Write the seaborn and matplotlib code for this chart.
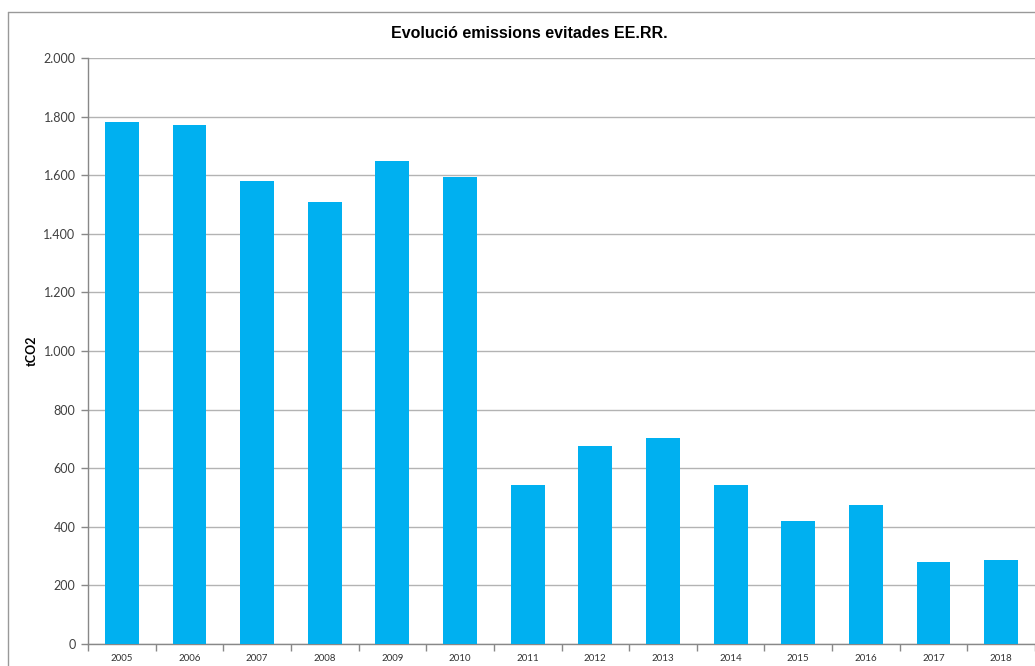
import matplotlib
matplotlib.use("Agg")
import matplotlib.pyplot as plt
from matplotlib.lines import Line2D
from matplotlib.ticker import FuncFormatter, FixedLocator
import pandas as pd
import seaborn as sns

years = [str(y) for y in range(2005, 2019)]
emissions = [1783, 1770, 1581, 1507, 1647, 1593, 541, 675, 702, 544, 419, 475, 280, 286]

TITLE = "Evolució emissions evitades EE.RR."
YLABEL = "tCO2"
BAR_COLOR = "#00B0F0"
GRID_COLOR = "#B3B3B3"

sns.set_theme(style="white")
plt.rcParams["font.family"] = ["Lato", "DejaVu Sans"]

df = pd.DataFrame({"year": years, "tco2": emissions})

W, H = 1035, 666
fig = plt.figure(figsize=(W / 100, H / 100), dpi=100)
ax = fig.add_axes([88 / W, (H - 644) / H, (W - 88) / W, (644 - 58) / H])

sns.barplot(data=df, x="year", y="tco2", color=BAR_COLOR, width=0.5,
            saturation=1, linewidth=0, ax=ax, zorder=3)

ax.set_xlim(-0.5, len(years) - 0.5)
ax.set_ylim(0, 2000)
ax.set_yticks(range(0, 2001, 200))
ax.yaxis.set_major_formatter(FuncFormatter(lambda v, p: f"{int(v):,}".replace(",", ".")))
ax.grid(axis="y", color=GRID_COLOR, linewidth=1, zorder=0)
ax.set_axisbelow(True)

# category boundary ticks on x axis
ax.xaxis.set_minor_locator(FixedLocator([i - 0.5 for i in range(len(years) + 1)]))
ax.tick_params(axis="x", which="major", bottom=True, length=0, labelsize=7, pad=7,
               labelcolor="#333333")
ax.tick_params(axis="x", which="minor", bottom=True, length=5, width=1,
               color="#888888", direction="out")
ax.tick_params(axis="y", which="major", left=True, length=5, width=1, color="#888888",
               direction="out", labelsize=9, labelcolor="#404040", pad=4)

for side in ["top", "right"]:
    ax.spines[side].set_visible(False)
for side in ["left", "bottom"]:
    ax.spines[side].set_color("#888888")
    ax.spines[side].set_linewidth(1)

ax.set_xlabel("")
ax.set_ylabel(YLABEL, fontsize=9, fontweight="bold", color="black")
ax.yaxis.set_label_coords(-(88 - 38) / (W - 88), 0.5)

fig.text(529 / W, 1 - 33 / H, TITLE, ha="center", va="center", fontsize=11.5,
         fontweight="bold", color="black", family=["Liberation Sans", "DejaVu Sans"])

# outer chart frame (cut off at right and bottom)
fig.add_artist(Line2D([8 / W, 8 / W], [0, 1 - 12 / H], transform=fig.transFigure,
                      color="#999999", linewidth=1))
fig.add_artist(Line2D([8 / W, 1], [1 - 12 / H, 1 - 12 / H], transform=fig.transFigure,
                      color="#999999", linewidth=1))

fig.savefig("out.png", dpi=100)
